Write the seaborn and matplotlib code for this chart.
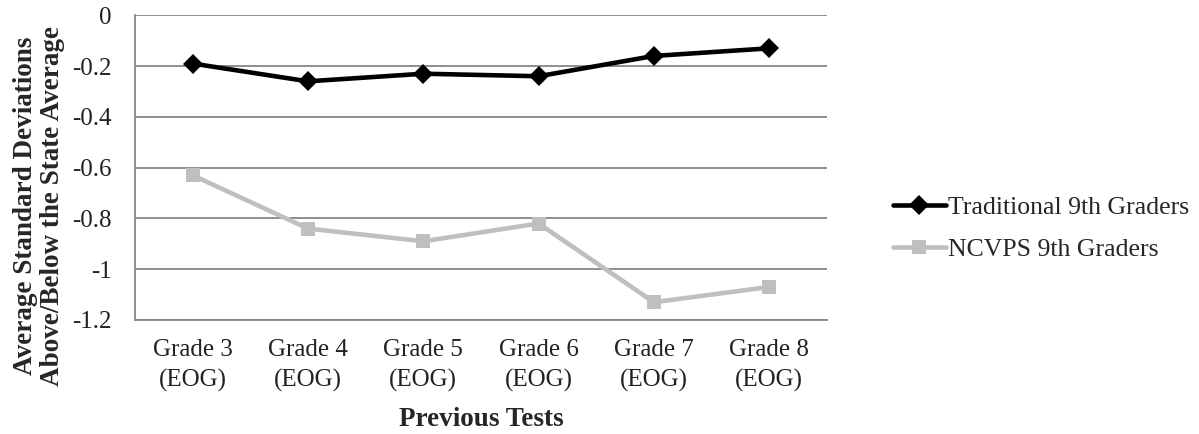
import pandas as pd
import numpy as np
import seaborn as sns
import matplotlib.pyplot as plt

# Data
tests = ['Grade 3\n(EOG)', 'Grade 4\n(EOG)', 'Grade 5\n(EOG)',
         'Grade 6\n(EOG)', 'Grade 7\n(EOG)', 'Grade 8\n(EOG)']
traditional = [-0.19, -0.26, -0.23, -0.24, -0.16, -0.13]
ncvps = [-0.63, -0.84, -0.89, -0.82, -1.13, -1.07]
series = ['Traditional 9th Graders', 'NCVPS 9th Graders']

df = pd.DataFrame({
    'test': tests * 2,
    'x': list(range(len(tests))) * 2,
    'value': traditional + ncvps,
    'group': [series[0]] * len(tests) + [series[1]] * len(tests),
})

sns.set_style('white')
plt.rcParams['font.family'] = ['Liberation Serif', 'DejaVu Serif']
fs = 18

fig = plt.figure(figsize=(11.99, 4.34), dpi=100)
ax = fig.add_axes([0.1126, 0.2627, 0.577, 0.702])

sns.lineplot(data=df, x='x', y='value', hue='group', style='group',
             palette={series[0]: 'black', series[1]: '#bfbfbf'},
             markers={series[0]: 'D', series[1]: 's'}, dashes=False,
             linewidth=3.3, markersize=10, markeredgewidth=0, ax=ax)

ax.set_xlim(-0.5, len(tests) - 0.5)
ax.set_ylim(-1.2, 0)
ax.set_yticks(np.arange(-1.2, 0.01, 0.2))
ax.set_yticklabels(['-1.2', '-1', '-0.8', '-0.6', '-0.4', '-0.2', '0'])
ax.set_xticks(range(len(tests)))
ax.set_xticklabels(tests, linespacing=1.4)
ax.tick_params(axis='both', length=0, labelsize=fs, colors='#222222')
ax.tick_params(axis='x', pad=14)
ax.tick_params(axis='y', pad=17)

ax.grid(axis='y', color='#868686', linewidth=1.3)
ax.set_axisbelow(True)
for side in ['top', 'right']:
    ax.spines[side].set_visible(False)
for side in ['left', 'bottom']:
    ax.spines[side].set_color('#868686')
    ax.spines[side].set_linewidth(1.3)

ax.set_xlabel('Previous Tests', fontsize=19.5, fontweight='bold')
ax.xaxis.set_label_coords(0.5, -0.285)
ax.set_ylabel('Average Standard Deviations\nAbove/Below the State Average',
              fontsize=19.5, fontweight='bold', linespacing=1.1)
ax.yaxis.set_label_coords(-0.101, 0.374)

leg = ax.legend(loc='center left', bbox_to_anchor=(1.081, 0.30), frameon=False,
                fontsize=18.5, handlelength=2.05, handletextpad=0.1,
                labelspacing=0.72, borderaxespad=0)

plt.savefig('out.png', dpi=100)
